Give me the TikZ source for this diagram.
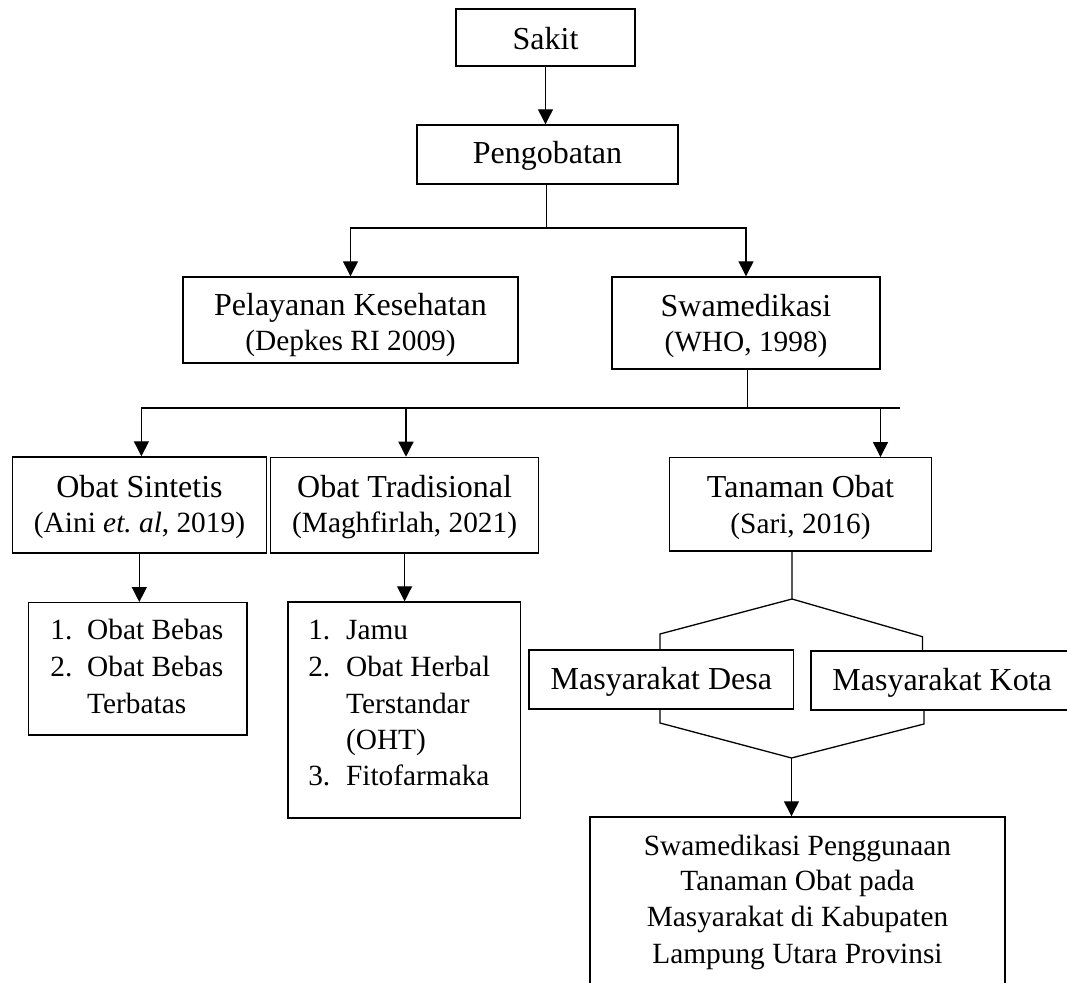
\documentclass[tikz,border=0pt]{standalone}
\usepackage{fontspec}
\setmainfont{Liberation Serif}
\usetikzlibrary{arrows.meta}
\begin{document}
\begin{tikzpicture}[x=0.5pt,y=-0.5pt,
  box/.style={draw, line width=0.7pt, inner sep=0pt, rectangle},
  ln/.style={line width=0.65pt},
  arr/.style={line width=0.65pt, -{Triangle[width=7.5pt,length=7.5pt]}},
  big/.style={font=\fontsize{16}{18}\selectfont, inner sep=0pt},
  sm/.style={font=\fontsize{14.67}{18}\selectfont, inner sep=0pt}]
\useasboundingbox (0,0) rectangle (1067,983);
\clip (0,0) rectangle (1067,983);
% boxes
\node[box, minimum width=89.5pt, minimum height=28.5pt] (sakit) at (545.5,37.5) {};
\node[box, minimum width=130.5pt, minimum height=29.5pt] (peng) at (547.5,154.5) {};
\node[box, minimum width=167.5pt, minimum height=43pt] (pel) at (350.5,320) {};
\node[box, minimum width=134pt, minimum height=46pt] (swa) at (746,323) {};
\node[box, minimum width=127pt, minimum height=48pt] (sint) at (139.5,505) {};
\node[box, minimum width=134pt, minimum height=47.75pt] (trad) at (404.6,505.2) {};
\node[box, minimum width=131pt, minimum height=46.65pt] (tan) at (800.5,504.4) {};
\node[box, minimum width=109.4pt, minimum height=66.15pt] (list1) at (137.6,668.9) {};
\node[box, minimum width=116.4pt, minimum height=108pt] (list2) at (404.3,710) {};
\node[box, minimum width=132.35pt, minimum height=29.5pt] (desa) at (661.35,679.5) {};
\node[box, minimum width=139.5pt, minimum height=29.5pt] (kota) at (950.5,680.5) {};
\node[box, minimum width=207.5pt, minimum height=96.5pt] (final) at (797.5,913.5) {};
% texts
\node[big, anchor=base] (sakit-t) at (545.5,50) {Sakit};
\node[big, anchor=base] (peng-t) at (547.5,164) {Pengobatan};
\node[big, anchor=base] (pel-t1) at (350.5,316) {Pelayanan Kesehatan};
\node[sm, anchor=base] (pel-t2) at (350.5,351) {(Depkes RI 2009)};
\node[big, anchor=base] (swa-t1) at (746,316.7) {Swamedikasi};
\node[sm, anchor=base] (swa-t2) at (746,351.7) {(WHO, 1998)};
\node[big, anchor=base] (sint-t1) at (139.5,497.3) {Obat Sintetis};
\node[sm, anchor=base] (sint-t2) at (139.5,532.3) {(Aini \textit{et.\ al}, 2019)};
\node[big, anchor=base] (trad-t1) at (404.6,497.3) {Obat Tradisional};
\node[sm, anchor=base] (trad-t2) at (404.6,532.3) {(Maghfirlah, 2021)};
\node[big, anchor=base] (tan-t1) at (800.5,497.3) {Tanaman Obat};
\node[sm, anchor=base] (tan-t2) at (800.5,533.3) {(Sari, 2016)};
\node[big, anchor=base] (desa-t) at (661.35,690) {Masyarakat Desa};
\node[big, anchor=base] (kota-t) at (811,691) [anchor=base west, xshift=10.5pt] {Masyarakat Kota};
% list 1
\node[sm, anchor=base west] (l1n1) at (50,640) {1.};
\node[sm, anchor=base west] (l1a) at (86.8,640) {Obat Bebas};
\node[sm, anchor=base west] (l1n2) at (50,676.7) {2.};
\node[sm, anchor=base west] (l1b) at (86.8,676.7) {Obat Bebas};
\node[sm, anchor=base west] (l1c) at (86.8,713.3) {Terbatas};
% list 2
\node[sm, anchor=base west] (l2n1) at (307.9,640) {1.};
\node[sm, anchor=base west] (l2a) at (345.7,640) {Jamu};
\node[sm, anchor=base west] (l2n2) at (307.9,676.7) {2.};
\node[sm, anchor=base west] (l2b) at (345.7,676.7) {Obat Herbal};
\node[sm, anchor=base west] (l2c) at (345.7,713.3) {Terstandar};
\node[sm, anchor=base west] (l2d) at (345.7,750) {(OHT)};
\node[sm, anchor=base west] (l2n3) at (307.9,786) {3.};
\node[sm, anchor=base west] (l2e) at (345.7,786) {Fitofarmaka};
% final text
\node[sm, anchor=base] (fin1) at (797.5,856) {Swamedikasi Penggunaan};
\node[sm, anchor=base] (fin2) at (797.5,890.7) {Tanaman Obat pada};
\node[sm, anchor=base] (fin3) at (797.5,926.7) {Masyarakat di Kabupaten};
\node[sm, anchor=base] (fin4) at (797.5,963.3) {Lampung Utara Provinsi};
% connectors
\draw[arr] (sakit.south) -- (sakit.south |- peng.north);
\coordinate (j1) at (546.6,228);
\draw[ln] (peng.south -| j1) -- (j1);
\draw[arr] (j1) -| (pel.north);
\draw[arr] (j1) -| (swa.north);
\coordinate (j2) at (747.6,408);
\coordinate (hl) at (141.4,408);
\coordinate (hm) at (406,408);
\coordinate (hr) at (899.6,408);
\coordinate (ht) at (880.5,408);
\draw[ln] (swa.south -| j2) -- (j2);
\draw[ln] (hl) -- (hr);
\draw[arr] (hl) -- (hl |- sint.north);
\draw[arr] (hm) -- (hm |- trad.north);
\draw[arr] (ht) -- (ht |- tan.north);
\draw[arr] (sint.south -| 139.3,0) -- (139.3,0 |- list1.north);
\draw[arr] (trad.south) -- (trad.south |- list2.north);
\coordinate (tj) at (792,599);
\coordinate (dl) at (660,634);
\coordinate (dr) at (922.4,636.7);
\draw[ln] (tan.south -| tj) -- (tj) -- (dl) -- (dl |- desa.north);
\draw[ln] (tj) -- (dr) -- (dr |- kota.north);
\coordinate (bl) at (660,723);
\coordinate (br) at (924,724);
\coordinate (m) at (791.5,758);
\draw[ln] (bl |- desa.south) -- (bl) -- (m) -- (br) -- (br |- kota.south);
\draw[arr] (m) -- (m |- final.north);
\end{tikzpicture}
\end{document}
